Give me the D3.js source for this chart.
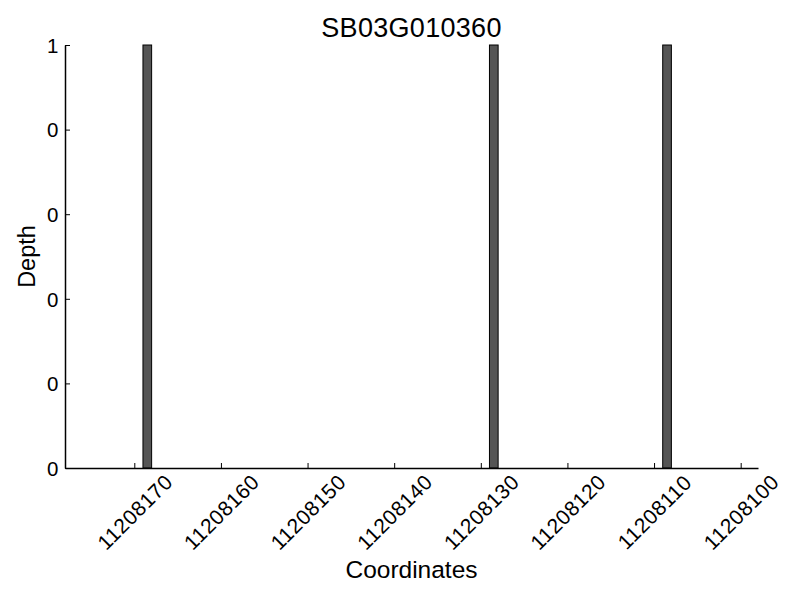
<!DOCTYPE html>
<html>
<head>
<meta charset="utf-8">
<script src="https://cdn.jsdelivr.net/npm/d3@7"></script>
<style>
  html, body { margin: 0; padding: 0; background: #fff; }
  text { font-family: "Liberation Sans", Arial, sans-serif; fill: #000; }
</style>
</head>
<body>
<svg id="chart" width="800" height="600"></svg>
<script>
// ---- data ----
const title = "SB03G010360";
const positions = [11208168, 11208128, 11208108];
const depths = [1, 1, 1];
const xDomain = [11208178, 11208098];
const xTicks = [11208170, 11208160, 11208150, 11208140, 11208130, 11208120, 11208110, 11208100];
const yTicks = [0, 0.2, 0.4, 0.6, 0.8, 1.0];
const yTickLabels = ["0", "0", "0", "0", "0", "1"];
const xLabel = "Coordinates";
const yLabel = "Depth";

// ---- layout ----
const svg = d3.select("#chart");
const plotL = 65, plotR = 758, plotT = 45, plotB = 468;

const x = d3.scaleLinear().domain(xDomain).range([plotL, plotR]);
const y = d3.scaleLinear().domain([0, 1]).range([plotB, plotT]);

// bars
svg.append("g").selectAll("rect")
  .data(positions.map((p, i) => ({p, d: depths[i]})))
  .join("rect")
  .attr("x", d => Math.min(x(d.p), x(d.p + 1)))
  .attr("width", d => Math.abs(x(d.p) - x(d.p + 1)))
  .attr("y", d => y(d.d))
  .attr("height", d => y(0) - y(d.d))
  .attr("fill", "#555555")
  .attr("stroke", "#000")
  .attr("stroke-width", 1);

// x axis (inward ticks, rotated labels)
const xAxis = d3.axisBottom(x).tickValues(xTicks).tickSizeInner(-5).tickSizeOuter(0).tickFormat(d3.format("d"));
const gx = svg.append("g").attr("transform", `translate(0,${plotB})`).call(xAxis);
gx.select(".domain").attr("stroke", "#000").attr("stroke-width", 1.5);
gx.selectAll(".tick line").attr("stroke", "#000").attr("stroke-width", 1);
gx.selectAll(".tick text")
  .attr("y", 0).attr("dy", null)
  .attr("font-size", 21)
  .attr("letter-spacing", 0.5)
  .attr("text-anchor", "middle")
  .attr("dominant-baseline", "central")
  .attr("transform", "translate(0,44) rotate(-45)");

// y axis
const yAxis = d3.axisLeft(y).tickValues(yTicks).tickSizeInner(-5).tickSizeOuter(0)
  .tickFormat((d, i) => yTickLabels[i]);
const gy = svg.append("g").attr("transform", `translate(${plotL},0)`).call(yAxis);
gy.select(".domain").attr("stroke", "#000").attr("stroke-width", 1.5);
gy.selectAll(".tick line").attr("stroke", "#000").attr("stroke-width", 1);
gy.selectAll(".tick text")
  .attr("x", -6.5).attr("dy", "0.36em")
  .attr("font-size", 20.5)
  .attr("text-anchor", "end");

// title & labels
svg.append("text").attr("x", (plotL + plotR) / 2).attr("y", 37)
  .attr("text-anchor", "middle").attr("font-size", 27).attr("letter-spacing", 0.3).text(title);
svg.append("text").attr("x", (plotL + plotR) / 2).attr("y", 578)
  .attr("text-anchor", "middle").attr("font-size", 24.5).text(xLabel);
svg.append("text").attr("transform", `translate(35,${(plotT + plotB) / 2}) rotate(-90)`)
  .attr("text-anchor", "middle").attr("font-size", 23.5).text(yLabel);
</script>
</body>
</html>
